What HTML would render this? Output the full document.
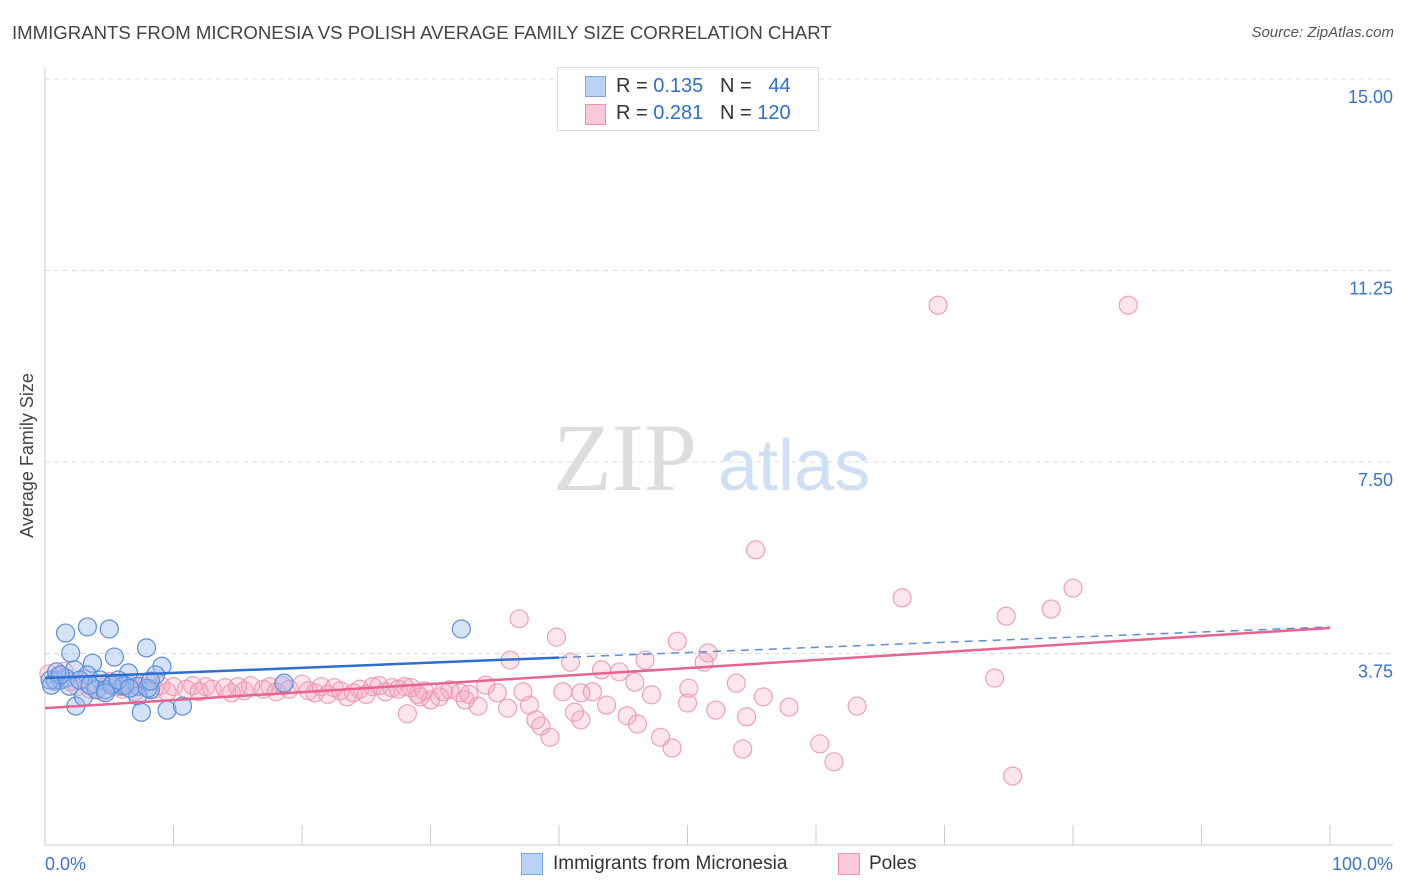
<!DOCTYPE html>
<html><head><meta charset="utf-8">
<style>
body{margin:0;background:#fff;font-family:"Liberation Sans",sans-serif;}
#wrap{position:relative;width:1406px;height:892px;overflow:hidden;}
.t{position:absolute;white-space:nowrap;}
</style></head>
<body>
<div id="wrap">
<div class="t" style="left:12px;top:22px;font-size:18.6px;color:#444;">IMMIGRANTS FROM MICRONESIA VS POLISH AVERAGE FAMILY SIZE CORRELATION CHART</div>
<div class="t" style="right:12px;top:24px;font-size:15px;color:#555;font-style:italic;">Source: ZipAtlas.com</div>
<svg id="svg" width="1406" height="892" style="position:absolute;left:0;top:0"></svg>
<div class="t" style="left:-55px;top:445px;font-size:18px;color:#444;transform:rotate(-90deg);">Average Family Size</div>
<div style="position:absolute;left:557px;top:67px;width:260px;height:62px;border:1px solid #ddd;background:#fff;">
 <div style="position:absolute;left:27px;top:8px;width:19px;height:19px;background:#b9d3f5;border:1px solid #7aa6e2;"></div>
 <div class="t" style="left:58px;top:7px;font-size:20px;color:#333;">R = <span style="color:#2f6fd0">0.135</span>&nbsp;&nbsp;&nbsp;N = &nbsp;&nbsp;<span style="color:#2f6fd0">44</span></div>
 <div style="position:absolute;left:27px;top:36px;width:19px;height:19px;background:#fac8d6;border:1px solid #eb93ad;"></div>
 <div class="t" style="left:58px;top:34px;font-size:20px;color:#333;">R = <span style="color:#2f6fd0">0.281</span>&nbsp;&nbsp;&nbsp;N = <span style="color:#2f6fd0">120</span></div>
</div>
<div style="position:absolute;left:521px;top:853px;width:20px;height:20px;background:#b9d3f5;border:1px solid #7aa6e2;"></div>
<div class="t" style="left:553px;top:853px;font-size:19px;color:#333;">Immigrants from Micronesia</div>
<div style="position:absolute;left:838px;top:853px;width:20px;height:20px;background:#fac8d6;border:1px solid #eb93ad;"></div>
<div class="t" style="left:869px;top:853px;font-size:19px;color:#333;">Poles</div>
</div>
<script>
const yTicks=[3.75,7.5,11.25,15];
const yTickLabels=["3.75","7.50","11.25","15.00"];
const xTickLabels=["0.0%","100.0%"];
const blueX=[1.6,3.3,5.0,2.0,3.7,5.4,7.9,9.1,6.5,8.6,1.2,2.3,3.3,4.3,5.3,6.0,7.2,8.2,7.2,2.4,3.0,7.5,9.5,10.7,32.4,18.6,0.8,0.4,1.6,4.0,4.7,1.9,0.9,8.0,6.2,2.7,3.5,1.2,0.5,5.2,5.7,8.2,4.7,6.6];
const blueY=[4.15,4.27,4.23,3.76,3.56,3.68,3.86,3.50,3.37,3.33,3.23,3.43,3.33,3.23,3.17,3.11,3.11,3.04,2.92,2.72,2.90,2.60,2.64,2.72,4.23,3.17,3.23,3.23,3.27,3.04,3.04,3.11,3.39,3.07,3.13,3.23,3.13,3.33,3.13,3.13,3.23,3.21,2.98,3.07];
const pinkX=[69.5,84.3,55.3,66.7,80.0,78.3,74.8,36.9,39.8,49.2,51.6,46.7,40.9,36.2,51.3,43.3,44.7,45.9,73.9,53.8,50.1,41.7,47.2,55.9,63.2,57.9,52.2,54.6,50.0,43.7,45.3,46.1,47.9,48.8,54.3,60.3,61.4,75.3,37.7,41.2,41.7,38.2,38.6,39.3,28.2,30.0,30.7,32.3,32.7,34.3,35.2,37.2,40.3,42.6,36.0,33.7,29.2,31.5,
1,1.5,2,2.5,3,3.5,4,4.5,5,5.5,6,6.5,7,7.5,8,8.5,9,9.5,10,11,11.5,12,12.5,13,14,14.5,15,15.5,16,17,17.5,18,18.5,19,20,20.5,21,21.5,22,22.5,23,23.5,24,24.5,25,25.5,26,26.5,27,27.5,28,28.5,29,29.5,31,33,0.3,0.8];
const pinkY=[10.57,10.57,5.78,4.84,5.03,4.62,4.48,4.43,4.07,3.99,3.76,3.62,3.58,3.62,3.58,3.43,3.39,3.19,3.27,3.17,3.07,2.98,2.94,2.90,2.72,2.70,2.64,2.51,2.78,2.74,2.53,2.37,2.11,1.90,1.88,1.98,1.63,1.35,2.74,2.60,2.45,2.45,2.33,2.11,2.57,2.84,2.90,2.98,2.84,3.13,2.98,3.00,3.00,3.00,2.68,2.72,2.90,3.04,
3.3,3.4,3.2,3.1,3.25,3.05,3.15,3.0,3.2,3.1,3.05,3.15,3.0,3.1,3.2,3.05,3.12,3.0,3.1,3.05,3.12,3.0,3.1,3.05,3.08,2.98,3.1,3.02,3.12,3.05,3.1,3.0,3.12,3.05,3.15,3.02,2.98,3.1,2.95,3.08,3.02,2.9,2.98,3.05,2.95,3.1,3.12,3.0,3.08,3.05,3.1,3.08,2.95,3.02,3.0,2.95,3.35,3.2];
const blueTrend=[3.27,4.27];
const pinkTrend=[2.68,4.25];
const blueSolidEnd=40;
const X0=45,X1=1330,Y0=845,PPU=51.07;
const sx=v=>X0+(X1-X0)*v/100;
const sy=v=>Y0-v*PPU;
const svg=document.getElementById('svg');
const NS='http://www.w3.org/2000/svg';
function mk(tag,attrs,name){const e=document.createElementNS(NS,tag);for(const k in attrs)e.setAttribute(k,attrs[k]);


svg.appendChild(e);return e;}
mk('line',{x1:45,x2:1393,y1:79,y2:79,stroke:'#ddd','stroke-dasharray':'5,4'},'grid-top');
yTicks.forEach((t,i)=>{
 mk('line',{x1:45,x2:1393,y1:sy(t),y2:sy(t),stroke:'#ddd','stroke-dasharray':'5,4'},'y-gridline');
 const tx=mk('text',{x:1393,y:sy(t)+24,'text-anchor':'end','font-size':18,fill:'#3b73cf','font-family':'Liberation Sans'},'y-tick-label');
 tx.textContent=yTickLabels[i];
});
mk('line',{x1:45,x2:45,y1:68,y2:845,stroke:'#ccc'},'y-axis-line');
mk('line',{x1:45,x2:1393,y1:845,y2:845,stroke:'#ccc'},'x-axis-line');
for(let i=0;i<=10;i++){mk('line',{x1:sx(i*10),x2:sx(i*10),y1:825,y2:845,stroke:'#ccc'},'x-tick');}
let t1=mk('text',{x:45,y:870,'font-size':18,fill:'#3b73cf','font-family':'Liberation Sans'},'x-tick-label');t1.textContent=xTickLabels[0];
let t2=mk('text',{x:1393,y:870,'text-anchor':'end','font-size':18,fill:'#3b73cf','font-family':'Liberation Sans'},'x-tick-label');t2.textContent=xTickLabels[1];
let w1=mk('text',{x:553,y:490,'font-size':96,fill:'#ddd','font-family':'Liberation Serif'},'watermark-zip');w1.textContent='ZIP';
let w2=mk('text',{x:718,y:490,'font-size':72,fill:'#cfe0f5','font-family':'Liberation Sans'},'watermark-atlas');w2.textContent='atlas';
pinkX.forEach((x,i)=>mk('circle',{cx:sx(x),cy:sy(pinkY[i]),r:9,fill:'rgba(245,160,185,0.28)',stroke:'#ee9ab3','stroke-width':1.1},'pink-point'));
blueX.forEach((x,i)=>mk('circle',{cx:sx(x),cy:sy(blueY[i]),r:9,fill:'rgba(150,185,240,0.4)',stroke:'#5b8fd8','stroke-width':1.2},'blue-point'));
const by=v=>blueTrend[0]+(blueTrend[1]-blueTrend[0])*v/100;
mk('line',{x1:sx(0),y1:sy(by(0)),x2:sx(blueSolidEnd),y2:sy(by(blueSolidEnd)),stroke:'#2f6fd0','stroke-width':2.5},'blue-trend-solid');
mk('line',{x1:sx(blueSolidEnd),y1:sy(by(blueSolidEnd)),x2:sx(100),y2:sy(by(100)),stroke:'#5b8fd8','stroke-width':1.5,'stroke-dasharray':'8,6'},'blue-trend-dashed');
mk('line',{x1:sx(0),y1:sy(pinkTrend[0]),x2:sx(100),y2:sy(pinkTrend[1]),stroke:'#e8638e','stroke-width':2.5},'pink-trend');
</script>
</body></html>
